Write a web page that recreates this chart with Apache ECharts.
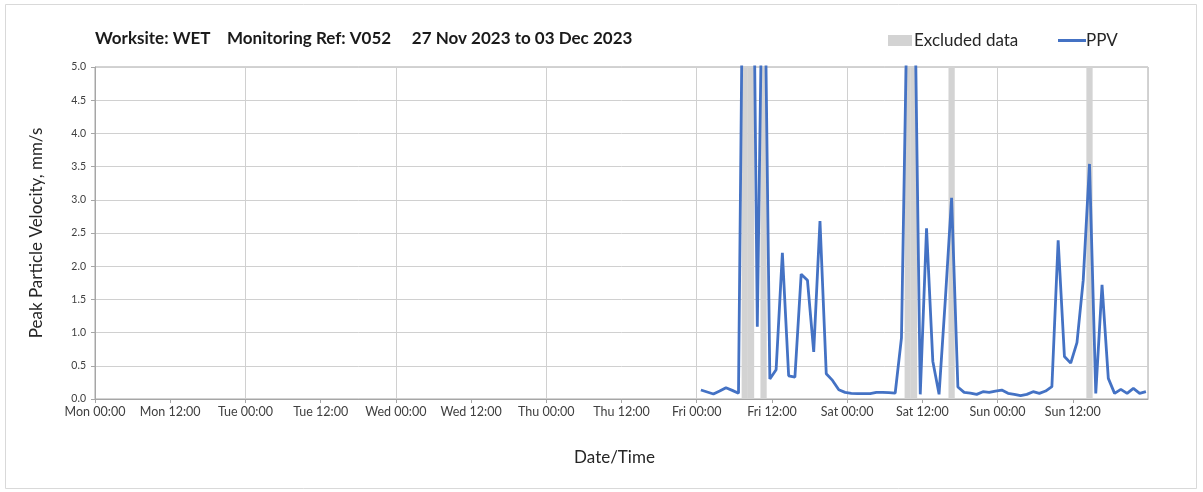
<!DOCTYPE html>
<html>
<head>
<meta charset="utf-8">
<script src="https://cdn.jsdelivr.net/npm/echarts@6/dist/echarts.min.js"></script>
<style>
html,body{margin:0;padding:0;background:#fff;}
#chart{width:1203px;height:492px;}
</style>
</head>
<body>
<div id="chart"></div>
<script>
// ---- data ----
const titleText = 'Worksite: WET    Monitoring Ref: V052     27 Nov 2023 to 03 Dec 2023';
const tickLabels = ['Mon 00:00','Mon 12:00','Tue 00:00','Tue 12:00','Wed 00:00','Wed 12:00',
  'Thu 00:00','Thu 12:00','Fri 00:00','Fri 12:00','Sat 00:00','Sat 12:00','Sun 00:00','Sun 12:00'];
const dayNames = ['Mon','Tue','Wed','Thu','Fri','Sat','Sun'];
const firstSample = 'Fri 00:40';      // hourly samples start here
const sampleStepHours = 1;
const ppvValues = [
  0.135,0.105,0.075,0.12,0.17,0.13,0.085,9.8,10.6,1.09,8.0,0.30,
  0.44,2.20,0.35,0.33,1.88,1.79,0.71,2.68,0.38,0.28,0.14,0.10,
  0.085,0.08,0.08,0.08,0.10,0.10,0.095,0.09,0.92,6.5,7.0,0.07,
  2.57,0.57,0.07,1.5,3.03,0.18,0.10,0.09,0.07,0.11,0.10,0.12,
  0.135,0.085,0.07,0.05,0.07,0.11,0.085,0.12,0.185,2.39,0.64,0.54,
  0.85,1.79,3.54,0.085,1.72,0.31,0.085,0.145,0.085,0.16,0.085,0.11
];
const excludedSamples = ['Fri 07:40','Fri 08:40','Fri 10:40','Sat 09:40','Sat 10:40','Sat 16:40','Sun 14:40'];

// ---- helpers ----
function toHours(s){
  const [d,t] = s.split(' ');
  const [hh,mm] = t.split(':').map(Number);
  return dayNames.indexOf(d)*24 + hh + mm/60;
}
const t0 = toHours(firstSample);
const ppvData = ppvValues.map((v,i)=>[t0 + i*sampleStepHours, v]);
const excludedAreas = excludedSamples.map(s=>{
  const t = toHours(s);
  return [{xAxis: t - sampleStepHours/2}, {xAxis: t + sampleStepHours/2}];
});

const FONT = 'Lato, "Open Sans", sans-serif';
const chart = echarts.init(document.getElementById('chart'));
chart.setOption({
  animation:false,
  backgroundColor:'#ffffff',
  graphic:[{type:'rect', shape:{x:5.5,y:4.5,width:1191,height:484}, style:{fill:'none',stroke:'#d9d9d9',lineWidth:1}, silent:true}],
  title:{text:titleText, left:90, top:25,
    textStyle:{fontFamily:FONT, fontSize:17, fontWeight:'bold', color:'#1a1a1a'}},
  legend:[
    {data:['Excluded data'], left:888, top:32, padding:0, itemWidth:24, itemHeight:11, icon:'rect', itemGap:4,
      textStyle:{fontFamily:FONT, fontSize:17, color:'#262626', padding:[0,0,0,-3]}},
    {data:['PPV'], left:1058, top:32, padding:0, itemWidth:28, itemHeight:3, icon:'rect',
      textStyle:{fontFamily:FONT, fontSize:17, color:'#262626', padding:[0,0,0,-5]}}
  ],
  grid:{left:95, right:55, top:67, bottom:93, show:true, borderColor:'#a6a6a6', borderWidth:1},
  xAxis:[
    {type:'value', min:0, max:168, interval:24, gridIndex:0,
      axisLine:{show:true, lineStyle:{color:'#a6a6a6'}}, axisTick:{show:false}, axisLabel:{show:false},
      splitLine:{show:true, lineStyle:{color:'#d0d0d0', width:1}},
      name:'Date/Time', nameLocation:'middle', nameGap:50,
      nameTextStyle:{fontFamily:FONT, fontSize:17, color:'#262626', padding:[0,14,0,0]}},
    {type:'value', min:0, max:168, interval:12, gridIndex:0, position:'bottom',
      axisLine:{show:false}, axisTick:{show:true, length:4, lineStyle:{color:'#a6a6a6'}},
      splitLine:{show:false},
      axisLabel:{margin:6, fontFamily:FONT, fontSize:12.5, color:'#404040', showMaxLabel:false,
        formatter:v=>{const k=Math.round(v/12); return k<tickLabels.length? tickLabels[k] : '';}}}
  ],
  yAxis:{type:'value', min:0, max:5, interval:0.5,
    axisLine:{show:true, lineStyle:{color:'#a6a6a6'}},
    axisTick:{show:true, length:4, lineStyle:{color:'#a6a6a6'}},
    splitLine:{show:true, lineStyle:{color:'#d0d0d0'}},
    axisLabel:{margin:9, fontFamily:FONT, fontSize:10.5, color:'#404040', formatter:v=>v.toFixed(1)},
    name:'Peak Particle Velocity, mm/s', nameLocation:'middle', nameGap:50,
    nameTextStyle:{fontFamily:FONT, fontSize:17, color:'#262626'}},
  series:[
    {name:'Excluded data', type:'line', xAxisIndex:0, data:[], color:'#d3d3d3', symbol:'none', z:1,
      markArea:{silent:true, itemStyle:{color:'#d3d3d3', opacity:1}, data:excludedAreas}},
    {name:'PPV', type:'line', xAxisIndex:0, data:ppvData, color:'#4472c4', symbol:'none', z:5,
      lineStyle:{width:2.8, color:'#4472c4'}, clip:true}
  ]
});
</script>
</body>
</html>
